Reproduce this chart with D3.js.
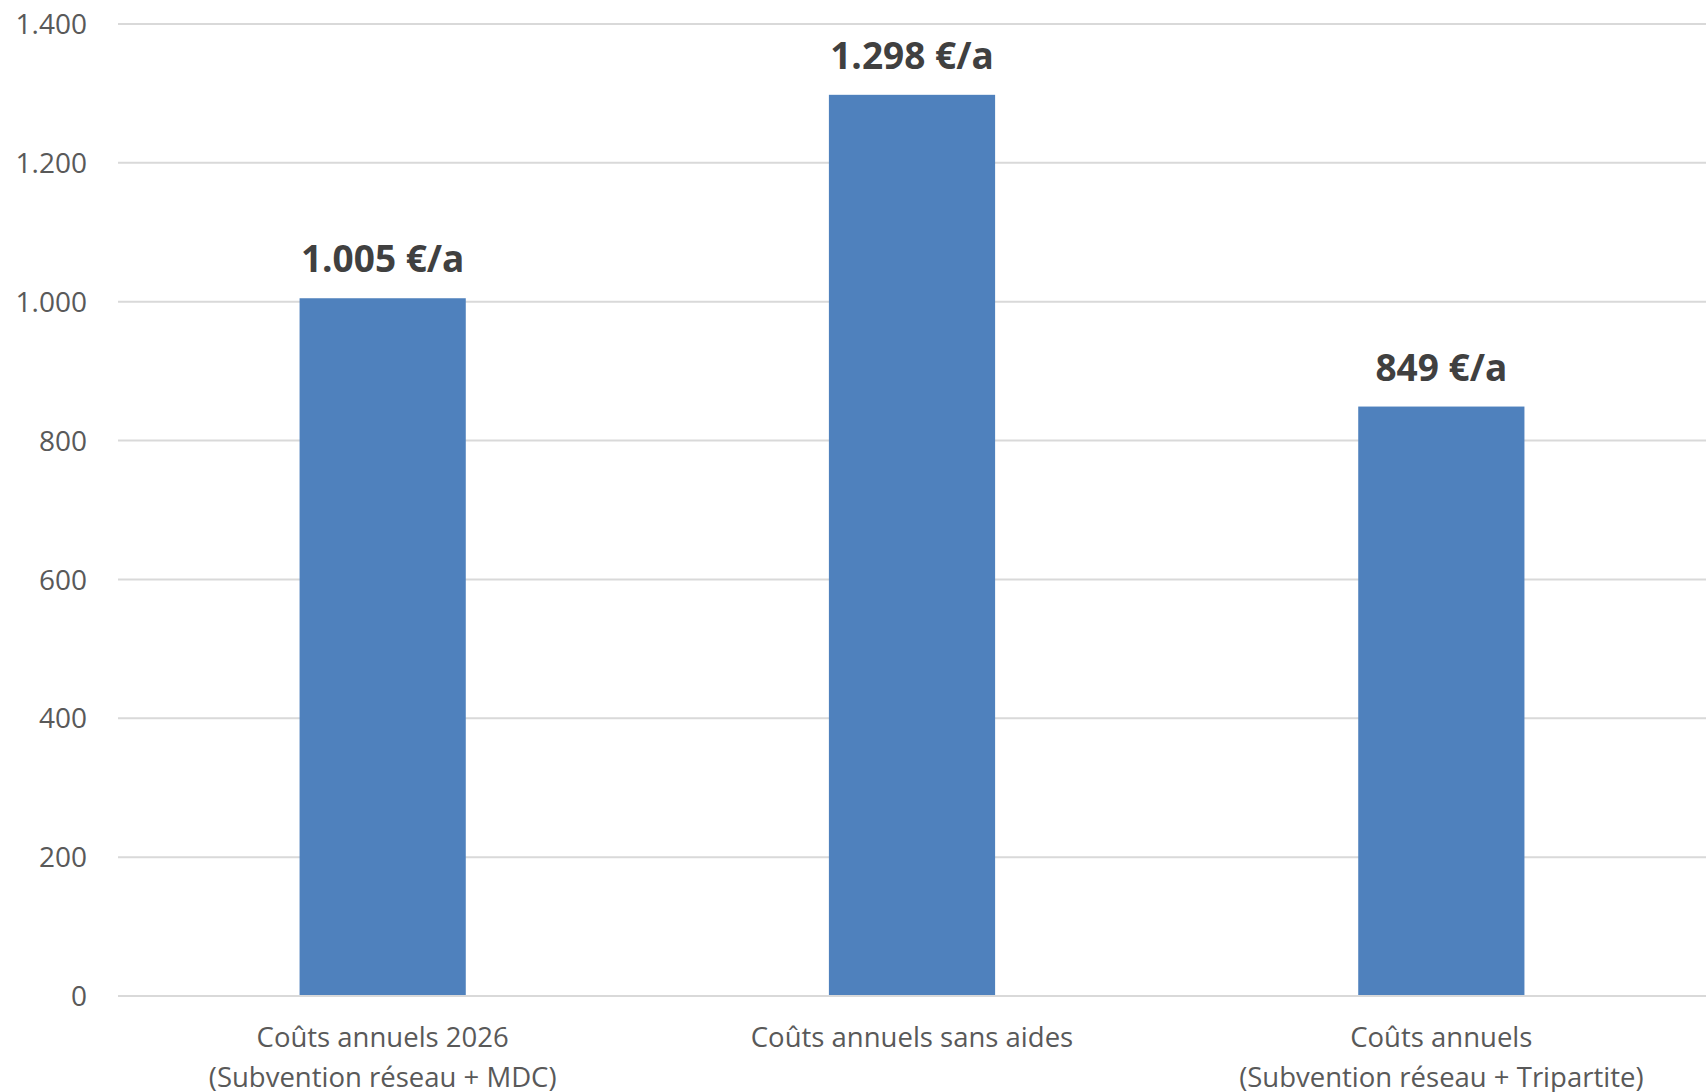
<!DOCTYPE html>
<html>
<head>
<meta charset="utf-8">
<script src="https://cdnjs.cloudflare.com/ajax/libs/d3/7.8.5/d3.min.js"></script>
<style>
html, body { margin: 0; padding: 0; background: #fff; }
svg { display: block; }
</style>
</head>
<body>
<svg id="chart" width="1706" height="1092"></svg>
<script>
const categories = [
  ["Coûts annuels 2026", "(Subvention réseau + MDC)"],
  ["Coûts annuels sans aides"],
  ["Coûts annuels", "(Subvention réseau + Tripartite)"]
];
const values = [1005, 1298, 849];
const valueLabels = ["1.005 €/a", "1.298 €/a", "849 €/a"];
const yTicks = [0, 200, 400, 600, 800, 1000, 1200, 1400];
const yTickLabels = ["0", "200", "400", "600", "800", "1.000", "1.200", "1.400"];

(function () {
const svg = d3.select("#chart");
const mLeft = 118, mRight = 1706, mTop = 24, mBottom = 996;
const font = "'Open Sans', 'Noto Sans', sans-serif";

const x = d3.scaleBand().domain(d3.range(categories.length)).range([mLeft, mRight]).padding(0);
const y = d3.scaleLinear().domain([0, 1400]).range([mBottom, mTop]);
const barW = x.bandwidth() * 0.314;

// gridlines
svg.append("g").selectAll("line").data(yTicks).join("line")
  .attr("x1", mLeft).attr("x2", mRight)
  .attr("y1", d => y(d)).attr("y2", d => y(d))
  .attr("stroke", "#d9d9d9").attr("stroke-width", 2);

// y tick labels
svg.append("g").selectAll("text").data(yTicks).join("text")
  .attr("x", 87).attr("y", d => y(d))
  .attr("dy", "0.36em")
  .attr("text-anchor", "end")
  .attr("font-family", font).attr("font-size", 28)
  .attr("fill", "#595959")
  .text((d, i) => yTickLabels[i]);

// bars
svg.append("g").selectAll("rect").data(values).join("rect")
  .attr("x", (d, i) => x(i) + x.bandwidth() / 2 - barW / 2)
  .attr("width", barW)
  .attr("y", d => y(d))
  .attr("height", d => mBottom - y(d))
  .attr("fill", "#4f81bd");

// baseline over bars
svg.append("line").attr("x1", mLeft).attr("x2", mRight)
  .attr("y1", y(0)).attr("y2", y(0))
  .attr("stroke", "#d9d9d9").attr("stroke-width", 2);

// value labels
svg.append("g").selectAll("text").data(values).join("text")
  .attr("x", (d, i) => x(i) + x.bandwidth() / 2)
  .attr("y", d => y(d) - 26)
  .attr("text-anchor", "middle")
  .attr("font-family", font).attr("font-size", 37).attr("font-weight", "bold")
  .attr("fill", "#404040")
  .text((d, i) => valueLabels[i]);

// category labels
const cg = svg.append("g").selectAll("text").data(categories).join("text")
  .attr("x", (d, i) => x(i) + x.bandwidth() / 2)
  .attr("y", 1047)
  .attr("text-anchor", "middle")
  .attr("font-family", font).attr("font-size", 27.5)
  .attr("fill", "#595959");
cg.each(function (d, i) {
  const t = d3.select(this);
  d.forEach((line, j) => {
    t.append("tspan").attr("x", x(i) + x.bandwidth() / 2).attr("y", 1047 + j * 40).text(line);
  });
});
})();
</script>
</body>
</html>
